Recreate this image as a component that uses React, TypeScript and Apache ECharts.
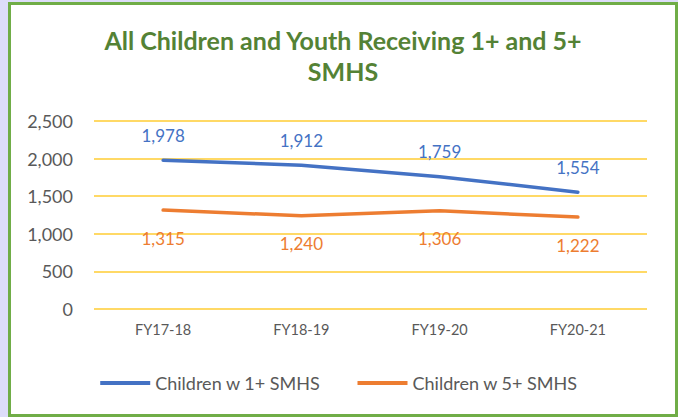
import React, { useEffect, useRef } from "react";
import * as echarts from "echarts";

const categories = ["FY17-18", "FY18-19", "FY19-20", "FY20-21"];
const series1Name = "Children w 1+ SMHS";
const series1Values = [1978, 1912, 1759, 1554];
const series2Name = "Children w 5+ SMHS";
const series2Values = [1315, 1240, 1306, 1222];
const titleText = "All Children and Youth Receiving 1+ and 5+\nSMHS";

const FONT = "Lato, 'Open Sans', sans-serif";

export default function App() {
  const ref = useRef<HTMLDivElement>(null);
  useEffect(() => {
    if (!ref.current) return;
    const chart = echarts.init(ref.current, undefined, { renderer: "svg" });
    const fmt = (p: any) => Number(p.value).toLocaleString("en-US");
    chart.setOption({
      animation: false,
      title: {
        text: titleText,
        left: 338,
        top: 19,
        textAlign: "center",
        textStyle: {
          fontFamily: FONT,
          fontSize: 25,
          fontWeight: "bold",
          color: "#548235",
          lineHeight: 31,
        },
      },
      grid: { left: 94, right: 31, top: 121, bottom: 108 },
      legend: {
        left: "center",
        top: 369,
        icon: "rect",
        itemWidth: 50,
        itemHeight: 4,
        itemGap: 37,
        textStyle: { fontFamily: FONT, fontSize: 18, color: "#595959" },
        data: [series1Name, series2Name],
      },
      xAxis: {
        type: "category",
        data: categories,
        boundaryGap: true,
        axisLine: { show: false },
        axisTick: { show: false },
        axisLabel: { color: "#595959", fontFamily: FONT, fontSize: 14.5, margin: 13 },
      },
      yAxis: {
        type: "value",
        min: 0,
        max: 2500,
        interval: 500,
        axisLine: { show: false },
        axisTick: { show: false },
        axisLabel: {
          color: "#595959",
          fontFamily: FONT,
          fontSize: 18,
          margin: 21,
          formatter: (v: number) => v.toLocaleString("en-US"),
        },
        splitLine: { lineStyle: { color: "#FFD966", width: 2 } },
      },
      series: [
        {
          name: series1Name,
          type: "line",
          data: series1Values,
          symbol: "circle",
          symbolSize: 1,
          color: "#4472C4",
          lineStyle: { width: 3.5, color: "#4472C4", cap: "round" },
          label: {
            show: true,
            position: "top",
            distance: 16,
            formatter: fmt,
            color: "#4472C4",
            fontFamily: FONT,
            fontSize: 17,
          },
        },
        {
          name: series2Name,
          type: "line",
          data: series2Values,
          symbol: "circle",
          symbolSize: 1,
          color: "#ED7D31",
          lineStyle: { width: 3.5, color: "#ED7D31", cap: "round" },
          label: {
            show: true,
            position: "bottom",
            distance: 19,
            formatter: fmt,
            color: "#ED7D31",
            fontFamily: FONT,
            fontSize: 17,
          },
        },
      ],
    });
    return () => chart.dispose();
  }, []);

  return (
    <div
      style={{
        position: "absolute",
        left: 0,
        top: 0,
        width: 678,
        height: 417,
        background: "#DDDDF9",
        overflow: "hidden",
      }}
    >
      <div
        style={{
          position: "absolute",
          left: 8,
          top: 2,
          width: 670,
          height: 415,
          boxSizing: "border-box",
          border: "3px solid #70AD47",
          background: "#FFFFFF",
        }}
      />
      <div
        ref={ref}
        style={{ position: "absolute", left: 0, top: 0, width: 678, height: 417 }}
      />
    </div>
  );
}
